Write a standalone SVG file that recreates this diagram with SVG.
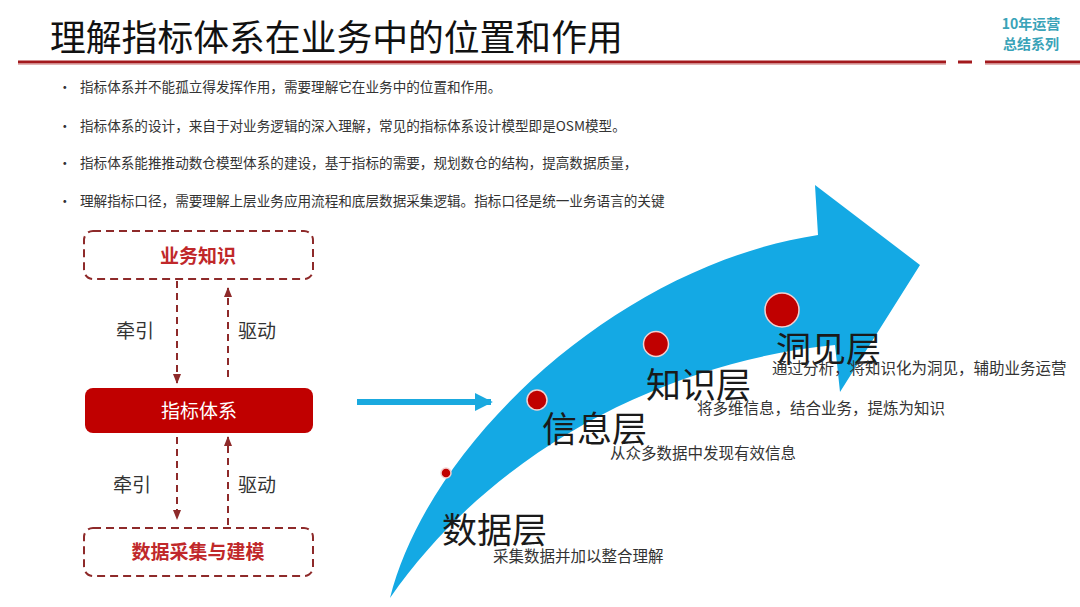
<svg xmlns="http://www.w3.org/2000/svg" width="1080" height="607" viewBox="0 0 1080 607">
<style>
.cjk{font-family:"Noto Sans CJK SC","Liberation Sans",sans-serif}
.title{font-size:35.8px;fill:#111}
.bul{font-size:13.6px;fill:#333}
.box{fill:#fff;stroke:#8e2a2a;stroke-width:2;stroke-dasharray:8 5}
.boxt{font-size:19px;font-weight:bold;fill:#c0282a;text-anchor:middle}
.lab{font-size:19px;fill:#333;text-anchor:middle}
.dl{stroke:#8e2a2a;stroke-width:2;stroke-dasharray:7 5;fill:none}
.big{font-size:35px;fill:#1a1a1a}
.sub{font-size:15.5px;fill:#333}
.dot{fill:#c00000;stroke:#f3d0d0;stroke-width:1.5}
</style>
<defs>
<marker id="ah" viewBox="0 0 10 10" refX="9" refY="5" markerWidth="5" markerHeight="5" orient="auto"><path d="M0,1 L10,5 L0,9 z" fill="#8e2a2a"/></marker>
<marker id="bh" viewBox="0 0 10 10" refX="9" refY="5" markerWidth="3" markerHeight="3.2" orient="auto"><path d="M0,0 L10,5 L0,10 z" fill="#1aa9df"/></marker>
</defs>
<rect width="1080" height="607" fill="#fff"/>
<!-- header -->
<text class="cjk title" x="50" y="51">理解指标体系在业务中的位置和作用</text>
<g stroke="#a3191d" stroke-width="3">
<line x1="18" y1="62" x2="946" y2="62"/>
<line x1="958" y1="62" x2="972" y2="62"/>
<line x1="985" y1="62" x2="1080" y2="62"/>
</g>
<g stroke="#e2b4b4" stroke-width="1">
<line x1="18" y1="64.5" x2="946" y2="64.5"/>
<line x1="985" y1="64.5" x2="1080" y2="64.5"/>
</g>
<text class="cjk" x="1031" y="29" font-size="14" font-weight="bold" fill="#3aa3b8" text-anchor="middle">10年运营</text>
<text class="cjk" x="1031" y="49" font-size="14" font-weight="bold" fill="#3aa3b8" text-anchor="middle">总结系列</text>
<!-- bullets -->
<g class="cjk bul">
<text x="58" y="92">•</text><text x="80" y="92">指标体系并不能孤立得发挥作用，需要理解它在业务中的位置和作用。</text>
<text x="58" y="131">•</text><text x="80" y="131">指标体系的设计，来自于对业务逻辑的深入理解，常见的指标体系设计模型即是OSM模型。</text>
<text x="58" y="168">•</text><text x="80" y="168">指标体系能推推动数仓模型体系的建设，基于指标的需要，规划数仓的结构，提高数据质量，</text>
<text x="58" y="206">•</text><text x="80" y="206">理解指标口径，需要理解上层业务应用流程和底层数据采集逻辑。指标口径是统一业务语言的关键</text>
</g>
<!-- left nodes -->
<g id="node-business">
<rect class="box" x="84" y="231" width="229" height="48" rx="9"/>
<text class="cjk boxt" x="198" y="263">业务知识</text>
</g>
<g id="node-metrics">
<rect x="85" y="388" width="228" height="45" rx="8" fill="#c00000"/>
<text class="cjk" x="199" y="418" font-size="19" fill="#fff" text-anchor="middle">指标体系</text>
</g>
<g id="node-data">
<rect class="box" x="84" y="528" width="229" height="48" rx="9"/>
<text class="cjk boxt" x="198" y="559">数据采集与建模</text>
</g>
<g id="connectors">
<line class="dl" x1="177" y1="281" x2="177" y2="383" marker-end="url(#ah)"/>
<line class="dl" x1="228" y1="377" x2="228" y2="288" marker-end="url(#ah)"/>
<line class="dl" x1="177" y1="437" x2="177" y2="519" marker-end="url(#ah)"/>
<line class="dl" x1="228" y1="525" x2="228" y2="437" marker-end="url(#ah)"/>
<line x1="357" y1="402" x2="491" y2="402" stroke="#1aa9df" stroke-width="6" marker-end="url(#bh)"/>
</g>
<g class="cjk lab">
<text x="135" y="338">牵引</text>
<text x="257" y="338">驱动</text>
<text x="132" y="492">牵引</text>
<text x="257" y="492">驱动</text>
</g>
<!-- big curved arrow -->
<g id="node-arrow">
<path d="M390,598 C430,440 620,265 818,235 L815,185 L920,265 L840,392 L835,345 C680,360 500,440 390,598 Z" fill="#14a9e4"/>
</g>
<g id="node-dots">
<circle class="dot" cx="446" cy="473" r="5"/>
<circle class="dot" cx="537" cy="400" r="10"/>
<circle class="dot" cx="656" cy="344" r="12.5"/>
<circle class="dot" cx="782" cy="310" r="17"/>
</g>
<g id="node-layers" class="cjk">
<text class="big" x="442" y="543">数据层</text>
<text class="sub" x="493" y="562">采集数据并加以整合理解</text>
<text class="big" x="542" y="442">信息层</text>
<text class="sub" x="610" y="459">从众多数据中发现有效信息</text>
<text class="big" x="646" y="398">知识层</text>
<text class="sub" x="697" y="414">将多维信息，结合业务，提炼为知识</text>
<text class="big" x="776" y="362">洞见层</text>
<text class="sub" x="772" y="374">通过分析，将知识化为洞见，辅助业务运营</text>
</g>
</svg>
